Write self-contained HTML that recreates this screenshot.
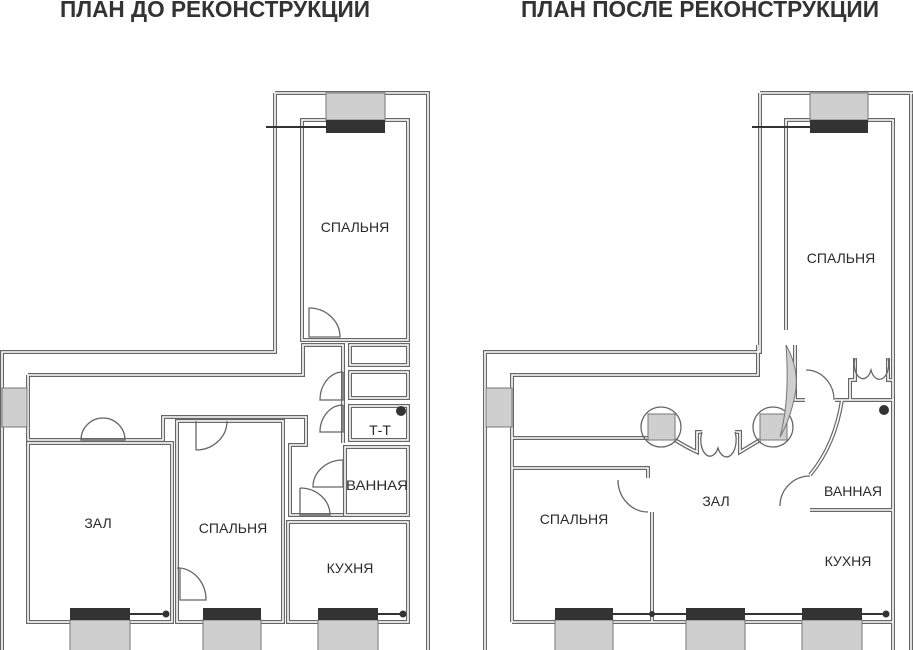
<!DOCTYPE html>
<html><head><meta charset="utf-8"><style>
html,body{margin:0;padding:0;background:#fff;width:913px;height:650px;overflow:hidden}
svg{display:block}
text{font-family:"Liberation Sans",sans-serif;fill:#2a2a2a;font-size:14px;text-anchor:middle}
.t{font-weight:bold;font-size:23px;fill:#333}
</style></head><body>
<svg width="913" height="650" viewBox="0 0 913 650" xmlns="http://www.w3.org/2000/svg">
<defs>
<g id="W" fill="none">
<path d="M275,93 H428 V652 M275,93 V352 H2 V652"/>
<rect x="302" y="120" width="106" height="220"/>
<rect x="350" y="345" width="58" height="20"/>
<rect x="350" y="372" width="58" height="26"/>
<rect x="350" y="406" width="58" height="34"/>
<path d="M28,375 H303 V345 H343 V443"/>
<path d="M28,375 V440 H163 V417 H306 V445 H290 V515 H343"/>
<rect x="345" y="447" width="63" height="68"/>
<rect x="28" y="443" width="144" height="179"/>
<rect x="177" y="421" width="106" height="201"/>
<rect x="288" y="522" width="120" height="100"/>
<path d="M760,93 H915 M760,93 V352 H485 V652 M911,93 V652"/>
<path d="M512,622 V375 H758 V345"/>
<path d="M786,330 V120 H893 V652 M512,622 H893"/>
<path d="M512,438 H648 M512,468 H648 V478 M652,512 V622"/>
<path d="M675,440 Q688,448 697,452 V432 H702 M735,432 H740 V452 Q750,446 760,440"/>
<path d="M795,345 V400 H805 M835,400 H893"/>
<path d="M850,400 V380 H855 V358 M888,358 V380 H893"/>
<path d="M842,400 Q835,445 810,475 M810,510 H893"/>
</g>
</defs>
<g stroke="#666" stroke-width="4"><use href="#W"/></g>
<g stroke="#fff" stroke-width="1.6"><use href="#W"/></g>

<text class="t" x="215" y="17" textLength="310" lengthAdjust="spacingAndGlyphs">ПЛАН ДО РЕКОНСТРУКЦИИ</text>
<text class="t" x="700" y="17" textLength="358" lengthAdjust="spacingAndGlyphs">ПЛАН ПОСЛЕ РЕКОНСТРУКЦИИ</text>

<g fill="#cfcfcf" stroke="#777" stroke-width="1">
<rect x="326" y="93" width="59" height="27"/>
<rect x="2" y="388" width="25" height="39"/>
<rect x="70" y="620" width="60" height="32"/>
<rect x="203" y="620" width="58" height="32"/>
<rect x="318" y="620" width="60" height="32"/>
<rect x="810" y="93" width="58" height="27"/>
<rect x="486" y="388" width="26" height="39"/>
<rect x="555" y="620" width="58" height="32"/>
<rect x="686" y="620" width="59" height="32"/>
<rect x="802" y="620" width="60" height="32"/>
<rect x="648" y="414" width="27" height="26"/>
<rect x="760" y="414" width="27" height="26"/>
</g>
<g fill="#333">
<rect x="326" y="120" width="59" height="13"/>
<rect x="70" y="608" width="60" height="12"/>
<rect x="203" y="608" width="58" height="12"/>
<rect x="318" y="608" width="60" height="12"/>
<rect x="810" y="120" width="58" height="13"/>
<rect x="555" y="608" width="58" height="12"/>
<rect x="686" y="608" width="59" height="12"/>
<rect x="802" y="608" width="60" height="12"/>
<circle cx="166" cy="614" r="3.5"/><circle cx="403" cy="614" r="3.5"/>
<circle cx="886" cy="614" r="3.5"/><circle cx="652" cy="614" r="3"/>
<circle cx="401" cy="411" r="5"/><circle cx="884" cy="410" r="5"/>
</g>
<g stroke="#333" stroke-width="2">
<path d="M266,127 H326 M130,614 H166 M378,614 H403 M752,127 H810 M613,614 H886"/>
</g>
<g fill="none" stroke="#666" stroke-width="1.3">
<path d="M81,440 A22,22 0 0 1 125,440 Z"/>
<path d="M196,450 V421 M196,450 A31,29 0 0 0 227,421"/>
<path d="M177,568 H180 V600 H206 A29,32 0 0 0 180,568"/>
<path d="M309,337 V308 A31,29 0 0 1 340,337 Z"/>
<path d="M343,372 V400 H320 A23,28 0 0 1 343,372"/>
<path d="M343,405 V432 H320 A23,27 0 0 1 343,405"/>
<path d="M343,460 V487 H313 A30,27 0 0 1 343,460"/>
<path d="M300,488 V515 H330 A30,27 0 0 0 300,488"/>
<circle cx="661" cy="427" r="20"/>
<circle cx="773" cy="427" r="20"/>
<path d="M702,432 A8,14 0 0 0 718,448 A8,14 0 0 0 735,432"/>
<path d="M806,370 A28,30 0 0 1 834,400"/>
<path d="M780,506 A30,30 0 0 1 810,476"/>
<path d="M618,480 A30,32 0 0 0 648,512"/>
<path d="M855,358 A6,10 0 0 0 871,370 A6,10 0 0 0 888,358"/>
</g>
<path d="M786,345 Q800,370 795,395 Q790,420 780,437 Q790,400 786,345 Z" fill="#cfcfcf" stroke="#777" stroke-width="1"/>

<text x="355" y="232">СПАЛЬНЯ</text>
<text x="98" y="528">ЗАЛ</text>
<text x="233" y="533">СПАЛЬНЯ</text>
<text x="350" y="573">КУХНЯ</text>
<text x="377" y="490" textLength="62" lengthAdjust="spacingAndGlyphs">ВАННАЯ</text>
<text x="380" y="435">Т-Т</text>
<text x="841" y="263">СПАЛЬНЯ</text>
<text x="716" y="506">ЗАЛ</text>
<text x="574" y="524">СПАЛЬНЯ</text>
<text x="853" y="496">ВАННАЯ</text>
<text x="848" y="566">КУХНЯ</text>
</svg>
</body></html>
